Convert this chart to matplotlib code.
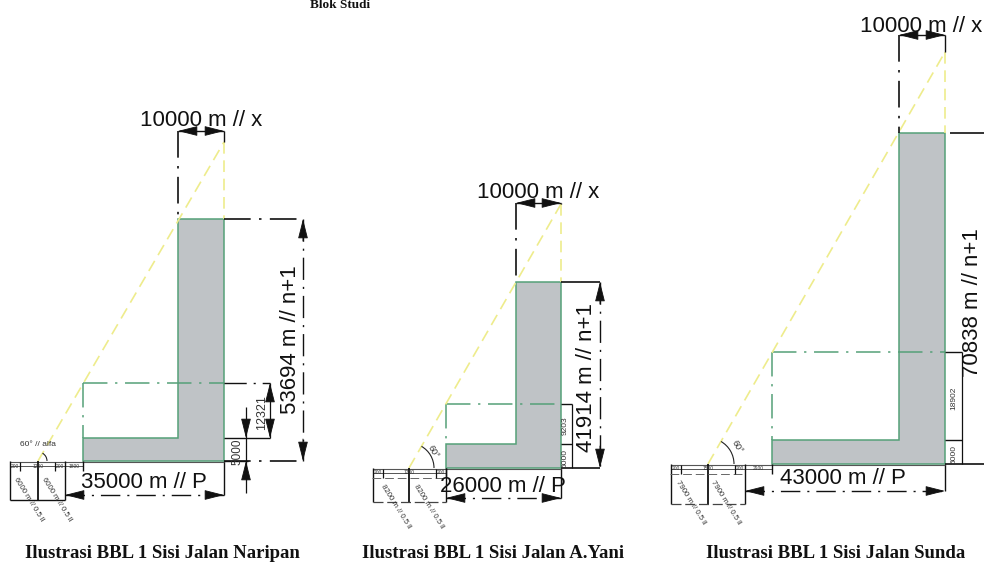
import matplotlib
matplotlib.use("Agg")
import matplotlib.pyplot as plt
from matplotlib.patches import Polygon, Arc

SANS = "Liberation Sans"
SERIF = "Liberation Serif"
GREEN = "#55a078"
GRAY = "#bfc3c6"
YELLOW = "#eeec8c"
BLACK = "#111111"
DASHDOT = (0, (16, 5, 1.5, 5))

# labels
captions = ["Ilustrasi BBL 1 Sisi Jalan Naripan",
            "Ilustrasi BBL 1 Sisi Jalan A.Yani",
            "Ilustrasi BBL 1 Sisi Jalan Sunda"]
top_labels = ["10000 m // x", "10000 m // x", "10000 m // x"]
height_labels = ["53694 m // n+1", "41914 m // n+1", "70838 m // n+1"]
base_labels = ["35000 m // P", "26000 m // P", "43000 m // P"]
upper_labels = ["12321", "9203", "18902"]
lower_labels = ["5000", "5000", "5000"]
setback_labels = ["6000 m // 0.5 ll", "8200 m // 0.5 ll", "7900 m // 0.5 ll"]
angle_labels = ["60° // alfa", "60°", "60°"]
road_labels = [["200", "1200", "200", "1800"], ["200", "1200", "200"], ["200", "1500", "200", "2900"]]

# outline of each L-shaped block, in picture pixels
x_left = [83, 446, 772]
x_inner = [178, 516, 899]
x_right = [224, 561, 945]
y_tower = [219, 282, 133]
y_base_top = [438, 444, 440]
y_ground = [461, 468, 464]
y_box = [383, 404, 352]
# sight line and dimension lines
x_origin = [38, 409, 708]
y_apex = [142, 204, 52]
y_top_dim = [131, 203, 35]
x_height_dim = [303, 600, 1000]
x_upper_dim = [270, 572, 962]
y_base_dim = [495, 498, 491]
x_road_left = [10, 373, 671]
x_road_mid = [65, 446, 745]
y_road_bottom = [500, 502, 504]
# text anchors
x_height_text = [291, 587, 972]
y_height_text = [340, 377, 303]
x_base_text = [144, 503, 843]
y_base_text = [482, 487, 479]
x_top_text = [201, 538, 921]
y_top_text = [121, 192, 26]
x_caption = [162, 493, 836]
x_small_text = [262, 565, 954]
x_setback_a = [15, 382, 677]
x_setback_b = [43, 415, 712]
arc_radius = [9, 25, 26]
x_angle_text = [38, 433, 737]
y_angle_text = [445, 452, 447]
angle_rotation = [0, -60, -60]

fig = plt.figure(figsize=(9.84, 5.63), dpi=100)
ax = fig.add_axes([0, 0, 1, 1])
ax.set_xlim(0, 984)
ax.set_ylim(563, 0)
ax.axis("off")


def line(xs, ys, color=BLACK, lw=1.0, ls="-", z=3):
    ax.plot(xs, ys, color=color, lw=lw, ls=ls, zorder=z, solid_capstyle="butt")


def head(tip, tail, scale=13):
    ax.annotate("", xy=tip, xytext=tail, zorder=5,
                arrowprops=dict(arrowstyle="-|>,head_width=0.24,head_length=0.95",
                                color=BLACK, lw=0.6, mutation_scale=scale,
                                shrinkA=0, shrinkB=0))


for i in range(3):
    xl, xi, xr = x_left[i], x_inner[i], x_right[i]
    yt, yb, yg, ybox = y_tower[i], y_base_top[i], y_ground[i], y_box[i]

    # block
    ax.add_patch(Polygon([(xl, yg), (xr, yg), (xr, yt), (xi, yt), (xi, yb), (xl, yb)],
                         closed=True, fc=GRAY, ec=GREEN, lw=1.1, zorder=2))
    # dashed envelope
    line([xl, xr], [ybox, ybox], color=GREEN, ls=DASHDOT, lw=1.1)
    line([xl, xl], [ybox, yb], color=GREEN, ls=DASHDOT, lw=1.1)

    # sight line
    line([x_origin[i], xr], [yg, y_apex[i]], color=YELLOW, ls=(0, (7, 4)), lw=1.2)
    line([xr, xr], [y_apex[i], yt], color=YELLOW, ls=(0, (7, 4)), lw=1.2)

    # top dimension
    line([xi, xi], [y_top_dim[i], yt], ls=DASHDOT, lw=1.2)
    line([xr, xr], [y_top_dim[i], y_apex[i]], lw=1.0)
    line([xi, xr], [y_top_dim[i], y_top_dim[i]], lw=1.0)
    head((xi, y_top_dim[i]), (xi + 17, y_top_dim[i]))
    head((xr, y_top_dim[i]), (xr - 17, y_top_dim[i]))
    ax.text(x_top_text[i], y_top_text[i], top_labels[i], family=SANS, fontsize=16,
            ha="center", va="center", color=BLACK, zorder=6)

    # height dimension
    xh = x_height_dim[i]
    line([xr + (5 if i == 2 else 0), xh], [yt, yt], ls=DASHDOT if i == 0 else "-", lw=1.2)
    line([xr, xh], [yg, yg], ls=DASHDOT if i == 0 else "-", lw=1.2)
    if xh < 984:
        line([xh, xh], [yt, yg], ls=DASHDOT, lw=1.0)
        head((xh, yt), (xh, yt + 22))
        head((xh, yg), (xh, yg - 22))
    ax.text(x_height_text[i], y_height_text[i], height_labels[i], family=SANS, fontsize=16,
            rotation=90, ha="center", va="center", color=BLACK, zorder=6)

    # upper and lower small dimensions
    xu = x_upper_dim[i]
    line([xr, xu], [ybox, ybox], lw=1.0, ls=DASHDOT if i == 0 else "-")
    line([xr, xu], [yb, yb], lw=1.0)
    line([xu, xu], [ybox, yb if i == 0 else yg], lw=0.9)
    ys = x_small_text[i]
    ax.text(ys, (ybox + yb) / 2 + 2, upper_labels[i], family=SANS, fontsize=6 if i else 9,
            rotation=90, ha="center", va="center", color="#333333", zorder=6)
    ax.text(ys if i else 237, (yb + yg) / 2 + (2 if i < 2 else 3), lower_labels[i], family=SANS,
            fontsize=6 if i else 8.5,
            rotation=90, ha="center", va="center", color="#333333", zorder=6)
    if i == 0:
        head((xu, ybox), (xu, ybox + 16))
        head((xu, yb), (xu, yb - 16))
        line([246, 246], [407, 493], lw=0.9)
        head((246, yb), (246, yb - 16))
        head((246, yg), (246, yg + 16))
        line([224, 248], [yg, yg], lw=1.0)

    # base dimension
    yd = y_base_dim[i]
    xm = x_road_mid[i]
    line([xr, xr], [yg, yd], lw=1.0)
    line([xm, xr], [yd, yd], ls=(0, (14, 5, 1.5, 5)), lw=1.0)
    head((xm, yd), (xm + 18, yd))
    head((xr, yd), (xr - 18, yd))
    ax.text(x_base_text[i], y_base_text[i], base_labels[i], family=SANS, fontsize=16,
            ha="center", va="center", color=BLACK, zorder=6)

    # road section
    xr0 = x_road_left[i]
    xo = x_origin[i]
    ybot = y_road_bottom[i]
    line([xr0, xr], [yg + 1, yg + 1], lw=0.8, color="#555555")
    line([xr0, xl], [yg + 5, yg + 5], lw=0.7, color="#555555")
    line([xr0, xr0], [yg, ybot], lw=1.0)
    line([xo, xo], [yg, ybot], lw=1.3)
    line([xm, xm], [yg, ybot], lw=1.0)
    line([xl, xl], [yg, yg + 10], lw=1.0)
    if i == 0:
        line([xr0, xm], [ybot, ybot], lw=1.0)
    else:
        line([xr0 - 1, xm], [yg + 10, yg + 10], lw=0.7, color="#666666", ls=(0, (9, 4)))
        line([xr0, xm], [ybot, ybot], lw=0.9, color="#444444", ls=(0, (8, 3)))
    for tx in (xr0 + 10, xm - 10):
        line([tx, tx], [yg + 1, yg + 10], lw=0.9)
    road_x = [xr0 + 5, xo, xm - 5, (xm + xl) / 2]
    for tx, lab in zip(road_x, road_labels[i]):
        ax.text(tx, yg + 5, lab, family=SANS, fontsize=3.5, ha="center", va="center",
                color="#333333", zorder=6)
    for sx in (x_setback_a[i], x_setback_b[i]):
        ax.text(sx, yg + 17, setback_labels[i], family=SANS, fontsize=5.6,
                rotation=-58, rotation_mode="anchor", ha="left", va="center",
                color="#333333", zorder=6)

    # angle note
    r = arc_radius[i]
    ax.add_patch(Arc((xo, yg), 2 * r, 2 * r, theta1=300, theta2=360, color="#222222",
                     lw=0.8, zorder=4))
    ax.text(x_angle_text[i], y_angle_text[i], angle_labels[i], family=SANS,
            fontsize=6 if i == 0 else 6.5, rotation=angle_rotation[i],
            ha="center", va="center", color="#333333", zorder=6)

    # caption
    ax.text(x_caption[i], 553, captions[i], family=SERIF, weight="bold", fontsize=13.5,
            ha="center", va="center", color=BLACK, zorder=6)

ax.text(340, 5, "Blok Studi", family=SERIF, weight="bold", fontsize=9.5,
        ha="center", va="center", color=BLACK, zorder=6)

fig.savefig("out.png", dpi=100)
